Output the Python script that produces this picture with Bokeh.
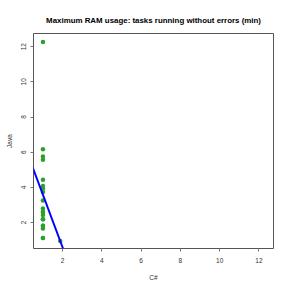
import numpy as np
from bokeh.plotting import figure
from bokeh.models import FixedTicker, Range1d, Slope
from bokeh.embed import file_html
from bokeh.resources import INLINE

# C# (x) vs Java (y) maximum RAM usage
csharp = [1.0] * 20 + [1.88]
java = [12.27, 6.17, 5.76, 5.57, 4.43, 4.08, 3.94, 3.74, 3.25, 2.80,
        2.60, 2.42, 2.19, 1.81, 1.66, 1.12,
        2.60, 2.19, 1.81, 1.12,
        0.95]
ticks = [2, 4, 6, 8, 10, 12]

FONT = "Liberation Sans"

p = figure(width=291, height=291, output_backend="svg", toolbar_location=None,
           x_range=Range1d(0.52, 12.74), y_range=Range1d(0.52, 12.75),
           min_border_left=33, min_border_right=18, min_border_top=33,
           min_border_bottom=43,
           title="Maximum RAM usage: tasks running without errors (min)")

p.title.align = "center"
p.title.text_font = FONT
p.title.text_font_size = "7.9px"
p.title.text_font_style = "bold"
p.title.text_color = "#000000"
p.title.standoff = 17

p.grid.visible = False
p.outline_line_color = "#555555"
p.outline_line_width = 1

p.scatter(csharp, java, size=4.5, color="#2ca02c", line_color=None)

slope, intercept = np.polyfit(csharp, java, 1)
p.add_layout(Slope(gradient=slope, y_intercept=intercept,
                   line_color="#0000ff", line_width=2))

for ax in (p.xaxis[0], p.yaxis[0]):
    ax.ticker = FixedTicker(ticks=ticks)
    ax.axis_line_color = None
    ax.major_tick_line_color = "#777777"
    ax.major_tick_out = 3
    ax.major_tick_in = 0
    ax.minor_tick_line_color = None
    ax.major_label_text_font = FONT
    ax.major_label_text_font_size = "6.5px"
    ax.major_label_text_color = "#333333"
    ax.axis_label_text_font = FONT
    ax.axis_label_text_font_size = "6.5px"
    ax.axis_label_text_font_style = "normal"
    ax.axis_label_text_color = "#333333"

p.xaxis.axis_label = "C#"
p.xaxis.major_label_standoff = 6
p.xaxis.axis_label_standoff = 8

p.yaxis.axis_label = "Java"
p.yaxis.major_label_orientation = "vertical"
p.yaxis.major_label_standoff = 4
p.yaxis.axis_label_standoff = 6

open("out.html", "w").write(file_html(p, INLINE))
